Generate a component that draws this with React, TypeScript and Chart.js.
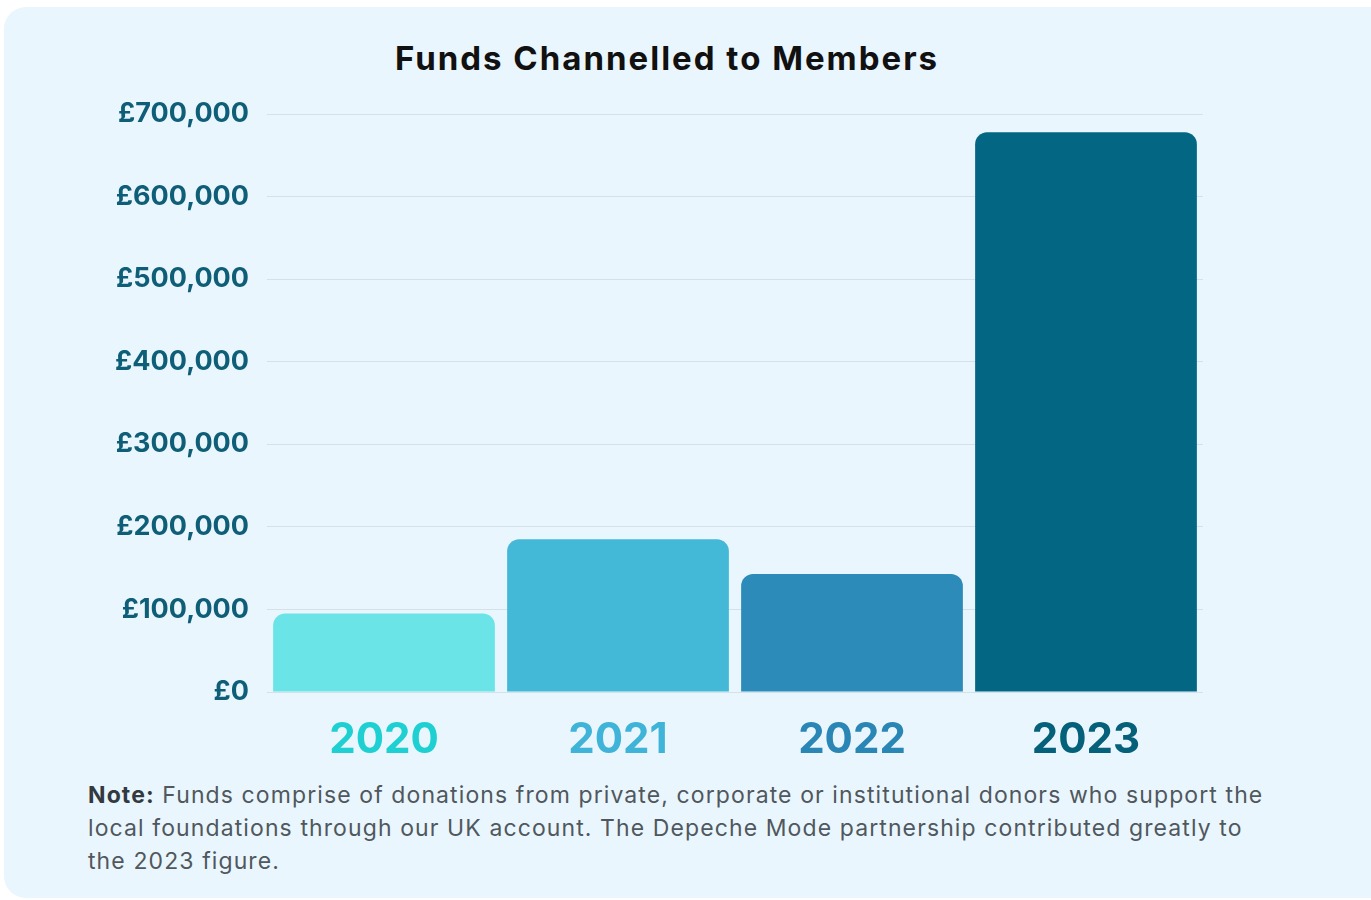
import { useEffect, useRef } from "react";
import { Chart, registerables } from "chart.js";

Chart.register(...registerables);

const chartTitle = "Funds Channelled to Members";
const years = ["2020", "2021", "2022", "2023"];
const funds = [95000, 185000, 143000, 678000];
const barColors = ["#6AE4E6", "#43B8D7", "#2C8BB8", "#036682"];
const yearLabelColors = ["#1FD0D2", "#3FB4D8", "#2A86B5", "#05607A"];
const yMin = 0;
const yMax = 700000;
const yStep = 100000;
const noteLead = "Note:";
const noteLines = [
  " Funds comprise of donations from private, corporate or institutional donors who support the",
  "local foundations through our UK account. The Depeche Mode partnership contributed greatly to",
  "the 2023 figure.",
];

const FONT = "Inter, 'Noto Sans', sans-serif";

export default function App() {
  const canvasRef = useRef<HTMLCanvasElement | null>(null);

  useEffect(() => {
    if (!canvasRef.current) return;
    Chart.defaults.font.family = FONT;
    const chart = new Chart(canvasRef.current, {
      type: "bar",
      data: {
        labels: years,
        datasets: [
          {
            data: funds,
            backgroundColor: barColors,
            borderWidth: 0,
            borderRadius: { topLeft: 12, topRight: 12, bottomLeft: 0, bottomRight: 0 },
            borderSkipped: "start",
            barPercentage: 0.9476,
            categoryPercentage: 1,
          },
        ],
      },
      options: {
        responsive: false,
        animation: false,
        devicePixelRatio: 1,
        layout: { padding: { left: 107, right: 168, top: 114, bottom: 6 } },
        plugins: {
          legend: { display: false },
          tooltip: { enabled: false },
          title: { display: false },
        },
        scales: {
          x: {
            grid: { display: false },
            border: { display: false },
            ticks: {
              color: (ctx: any) => yearLabelColors[ctx.index] ?? "#000",
              font: { family: FONT, size: 42, weight: "bold" },
              padding: 15,
            },
            afterFit: (s: any) => {
              s.height = 72;
            },
          },
          y: {
            min: yMin,
            max: yMax,
            grid: { color: "#D3E1E9", drawTicks: false, lineWidth: 1 },
            border: { display: false },
            ticks: {
              stepSize: yStep,
              color: "#0F5E78",
              font: { family: FONT, size: 27, weight: "bold" },
              padding: 18,
              callback: (v: any) => "£" + Number(v).toLocaleString("en-GB"),
            },
            afterFit: (s: any) => {
              s.width = 160;
            },
          },
        },
      },
    });
    return () => chart.destroy();
  }, []);

  return (
    <div
      style={{
        position: "fixed",
        left: 0,
        top: 0,
        width: 1371,
        height: 900,
        overflow: "hidden",
        background: "#ffffff",
      }}
    >
      <div
        style={{
          position: "absolute",
          left: 4,
          top: 7,
          width: 1390,
          height: 891,
          borderRadius: 22,
          background: "#EAF6FD",
        }}
      />
      <div
        style={{
          position: "absolute",
          left: 0,
          top: 38,
          width: 1334,
          textAlign: "center",
          fontFamily: FONT,
          fontSize: 33,
          fontWeight: 700,
          lineHeight: "40px",
          letterSpacing: "2px",
          color: "#111111",
        }}
      >
        {chartTitle}
      </div>
      <canvas
        ref={canvasRef}
        width={1371}
        height={770}
        style={{ position: "absolute", left: 0, top: 0, width: 1371, height: 770 }}
      />
      <div
        style={{
          position: "absolute",
          left: 88,
          top: 779,
          fontFamily: FONT,
          fontSize: 23,
          lineHeight: "33px",
          letterSpacing: "1.1px",
          color: "#50585D",
          whiteSpace: "pre",
        }}
      >
        <span style={{ fontWeight: 700, color: "#333A3F" }}>{noteLead}</span>
        {noteLines[0]}
        <br />
        {noteLines[1]}
        <br />
        {noteLines[2]}
      </div>
    </div>
  );
}
